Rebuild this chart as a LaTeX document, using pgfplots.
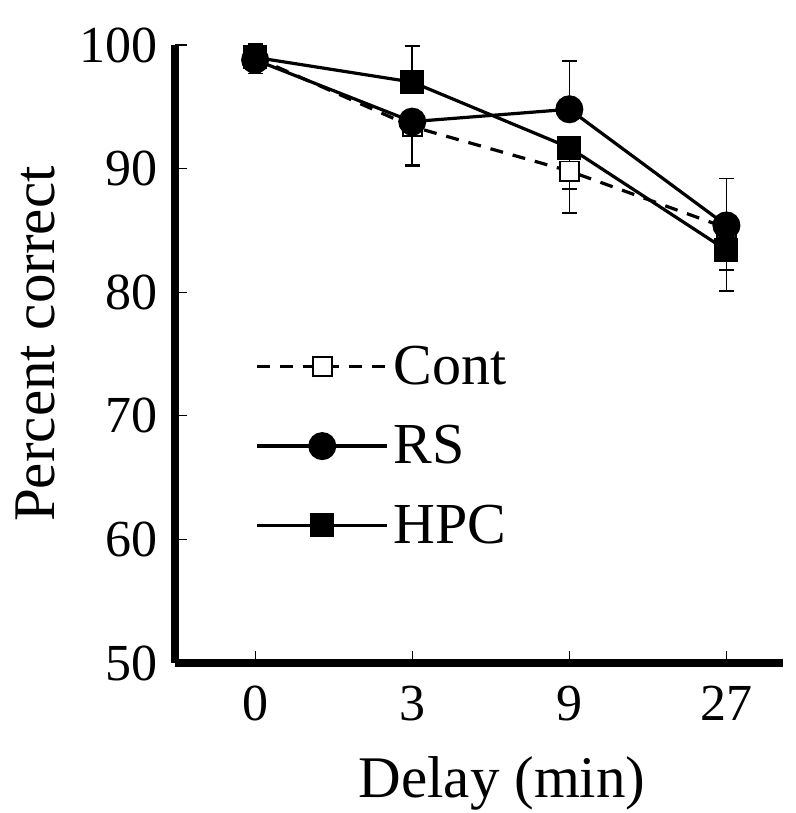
\documentclass[border=0pt]{standalone}
\usepackage{fontspec}
\setmainfont{Liberation Serif}
\usepackage{pgfplots}
\pgfplotsset{compat=1.18}
\begin{document}
\begin{tikzpicture}
\begin{axis}[
  at={(0pt,0pt)}, anchor=south west,
  width=304pt, height=309pt, scale only axis,
  xmin=-0.51, xmax=3.36, ymin=50, ymax=100,
  axis x line*=bottom, axis y line*=left,
  axis line style={line width=4pt, black},
  xtick={0,1,2,3}, xticklabels={0,3,9,27},
  ytick={50,60,70,80,90,100},
  tick align=inside, major tick length=6pt,
  tick style={line width=0.6pt, black},
  /pgf/number format/assume math mode=true,
  tick label style={font=\fontsize{26}{30}\selectfont},
  xticklabel style={yshift=-8pt},
  yticklabel style={xshift=-5pt},
  label style={font=\fontsize{29.5}{35}\selectfont},
  xlabel={Delay (min)}, ylabel={Percent correct},
  xlabel style={at={(axis description cs:0.538,-0.195)}, anchor=center},
  ylabel style={at={(axis description cs:-0.23,0.516)}, anchor=center},
  clip=false,
  legend style={draw=none, fill=none, at={(rel axis cs:0.132,0.351)}, anchor=west,
    font=\fontsize{29}{34}\selectfont, inner sep=0pt, row sep=14pt,
    nodes={inner sep=2.5pt}},
  legend cell align=left,
  legend image code/.code={\draw[mark repeat=2,mark phase=2,#1] plot coordinates {(0pt,0pt) (32.5pt,0pt) (65pt,0pt)};},
  error bars/error bar style={line width=0.75pt, black, solid},
  error bars/error mark options={rotate=90, mark size=3.75pt, line width=0.75pt, black, solid},
]
% upper error bars
\addplot[forget plot, only marks, mark=none, error bars/.cd, y dir=plus, y explicit]
  coordinates {(0,99.0) +- (0,1.1) (1,97.0) +- (0,2.9) (2,94.8) +- (0,3.9) (3,85.4) +- (0,3.8)};
% lower error bars
\addplot[forget plot, only marks, mark=none, error bars/.cd, y dir=minus, y explicit]
  coordinates {(0,98.8) +- (0,1.1) (1,93.8) +- (0,3.5) (1,93.4) +- (0,3.2) (2,89.8) +- (0,3.4) (2,91.7) +- (0,3.35) (3,85.2) +- (0,3.4) (3,83.4) +- (0,3.3)};
\addplot[black, line width=1.6pt, dash pattern=on 6.5pt off 5pt, mark=square*, mark size=4.8pt, mark options={solid, fill=white, line width=0.9pt}]
  coordinates {(0,99.0) (1,93.4) (2,89.8) (3,85.2)};
\addlegendentry{Cont}
\addplot[black, line width=1.6pt, mark=*, mark size=6.2pt, mark options={solid, fill=black}]
  coordinates {(0,98.8) (1,93.8) (2,94.8) (3,85.4)};
\addlegendentry{RS}
\addplot[black, line width=1.6pt, mark=square*, mark size=5.2pt, mark options={solid, fill=black}]
  coordinates {(0,99.0) (1,97.0) (2,91.7) (3,83.4)};
\addlegendentry{HPC}
\end{axis}
\pgfresetboundingbox
\useasboundingbox (-87.5pt,-75pt) rectangle (310.5pt,331.5pt);
\end{tikzpicture}
\end{document}
